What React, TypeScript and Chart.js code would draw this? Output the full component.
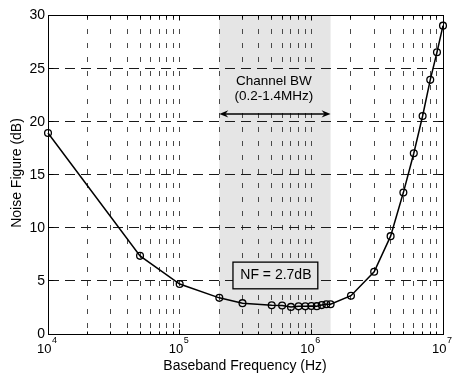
import React, { useEffect, useRef } from 'react';
import { Chart, registerables } from 'chart.js';

Chart.register(...registerables);

// ---- data ----
const freqHz = [
  1e4, 5e4, 1e5, 2e5, 3e5, 5e5, 6e5, 7e5, 8e5, 9e5, 1e6, 1.1e6, 1.2e6, 1.3e6, 1.4e6,
  2e6, 3e6, 4e6, 5e6, 6e6, 7e6, 8e6, 9e6, 1e7,
];
const noiseFigureDb = [
  18.9, 7.35, 4.7, 3.4, 2.9, 2.7, 2.68, 2.55, 2.6, 2.6, 2.63, 2.62, 2.72, 2.8, 2.8,
  3.6, 5.85, 9.2, 13.3, 17.0, 20.5, 23.9, 26.5, 29.0,
];
const xTickValues = [
  1e4, 2e4, 3e4, 4e4, 5e4, 6e4, 7e4, 8e4, 9e4,
  1e5, 2e5, 3e5, 4e5, 5e5, 6e5, 7e5, 8e5, 9e5,
  1e6, 2e6, 3e6, 4e6, 5e6, 6e6, 7e6, 8e6, 9e6,
  1e7,
];
const xMajorTicks = [1e4, 1e5, 1e6, 1e7];
const xMajorExponents = ['4', '5', '6', '7'];
const yTickValues = [0, 5, 10, 15, 20, 25, 30];
const yTickLabels = ['0', '5', '10', '15', '20', '25', '30'];
const bandEdgesHz = [2e5, 1.4e6];
const bandLabelLines = ['Channel BW', '(0.2-1.4MHz)'];
const nfLabel = 'NF = 2.7dB';
const xTitle = 'Baseband Frequency (Hz)';
const yTitle = 'Noise Figure (dB)';

// annotation anchors (data coordinates)
const bandLabelX = 5.2e5;
const bandLabelBaselines = [23.4, 22.0];
const bandLabelBgX = [2.16e5, 1.28e6];
const bandLabelBgY = [21.3, 24.75];
const arrowYValue = 20.7;
const nfBoxX = [2.54e5, 1.12e6];
const nfBoxY = [4.25, 6.76];
const nfTextX = 5.38e5;
const nfTextBaseline = 5.2;

const FONT = "'Liberation Sans', Arial, Helvetica, sans-serif";
const SHADE = '#e5e5e5';

const al = (p: number) => Math.round(p - 0.5) + 0.5;

function arrowHead(ctx: CanvasRenderingContext2D, tipX: number, y: number, dir: number) {
  ctx.beginPath();
  ctx.moveTo(tipX, y);
  ctx.lineTo(tipX - dir * 9, y - 3.6);
  ctx.lineTo(tipX - dir * 6, y);
  ctx.lineTo(tipX - dir * 9, y + 3.6);
  ctx.closePath();
  ctx.fill();
}

const decorPlugin = {
  id: 'matlabDecor',
  beforeDraw(chart: any) {
    const { ctx, chartArea: a, scales } = chart;
    const x = scales.x;
    const x0 = x.getPixelForValue(bandEdgesHz[0]);
    const x1 = x.getPixelForValue(bandEdgesHz[1]);
    ctx.save();
    ctx.fillStyle = SHADE;
    ctx.fillRect(x0, a.top, x1 - x0, a.bottom - a.top);
    ctx.restore();
  },
  afterDraw(chart: any) {
    const { ctx, chartArea: a, scales } = chart;
    const x = scales.x;
    const y = scales.y;
    ctx.save();

    // axes box
    ctx.strokeStyle = '#000';
    ctx.lineWidth = 1;
    const L = al(a.left), R = al(a.right), T = al(a.top), B = al(a.bottom);
    ctx.strokeRect(L, T, R - L, B - T);

    // inner tick marks
    ctx.beginPath();
    xTickValues.forEach((v) => {
      if (v === xTickValues[0] || v === xTickValues[xTickValues.length - 1]) return;
      const px = al(x.getPixelForValue(v));
      const len = xMajorTicks.includes(v) ? 5 : 3;
      ctx.moveTo(px, B);
      ctx.lineTo(px, B - len);
      ctx.moveTo(px, T);
      ctx.lineTo(px, T + len);
    });
    yTickValues.forEach((v, i) => {
      if (i === 0 || i === yTickValues.length - 1) return;
      const py = al(y.getPixelForValue(v));
      ctx.moveTo(L, py);
      ctx.lineTo(L + 5, py);
      ctx.moveTo(R, py);
      ctx.lineTo(R - 5, py);
    });
    ctx.stroke();

    ctx.fillStyle = '#000';
    // y tick labels
    ctx.font = `14px ${FONT}`;
    ctx.textAlign = 'right';
    ctx.textBaseline = 'middle';
    yTickValues.forEach((v, i) => {
      ctx.fillText(yTickLabels[i], a.left - 3, y.getPixelForValue(v) + 0.5);
    });

    // x tick labels 10^n
    ctx.textAlign = 'left';
    ctx.textBaseline = 'alphabetic';
    xMajorTicks.forEach((v, i) => {
      const px = x.getPixelForValue(v);
      const sx = px - 11;
      ctx.font = `13px ${FONT}`;
      ctx.fillText('10', sx, 353);
      const w = ctx.measureText('10').width;
      ctx.font = `9px ${FONT}`;
      ctx.fillText(xMajorExponents[i], sx + w + 0.5, 343);
    });

    // axis titles
    ctx.font = `14px ${FONT}`;
    ctx.textAlign = 'center';
    ctx.fillText(xTitle, (a.left + a.right) / 2 - 0.5, 369.5);
    ctx.save();
    ctx.translate(20.5, (a.top + a.bottom) / 2 - 1.5);
    ctx.rotate(-Math.PI / 2);
    ctx.fillText(yTitle, 0, 0);
    ctx.restore();

    // channel BW label (with background matching the shaded band)
    const gx0 = x.getPixelForValue(bandLabelBgX[0]);
    const gx1 = x.getPixelForValue(bandLabelBgX[1]);
    const gy0 = y.getPixelForValue(bandLabelBgY[1]);
    const gy1 = y.getPixelForValue(bandLabelBgY[0]);
    ctx.fillStyle = SHADE;
    ctx.fillRect(gx0, gy0, gx1 - gx0, gy1 - gy0);
    ctx.fillStyle = '#000';
    ctx.font = `13.5px ${FONT}`;
    ctx.textAlign = 'center';
    const bx = x.getPixelForValue(bandLabelX);
    bandLabelLines.forEach((t, i) => {
      ctx.fillText(t, bx, y.getPixelForValue(bandLabelBaselines[i]));
    });

    // double arrow
    const ax0 = x.getPixelForValue(bandEdgesHz[0]);
    const ax1 = x.getPixelForValue(bandEdgesHz[1]);
    const ay = y.getPixelForValue(arrowYValue);
    ctx.strokeStyle = '#000';
    ctx.lineWidth = 1.5;
    ctx.beginPath();
    ctx.moveTo(ax0 + 5, ay);
    ctx.lineTo(ax1 - 5, ay);
    ctx.stroke();
    arrowHead(ctx, ax0, ay, -1);
    arrowHead(ctx, ax1, ay, 1);

    // NF box
    const nx0 = x.getPixelForValue(nfBoxX[0]);
    const nx1 = x.getPixelForValue(nfBoxX[1]);
    const ny0 = y.getPixelForValue(nfBoxY[1]);
    const ny1 = y.getPixelForValue(nfBoxY[0]);
    ctx.fillStyle = SHADE;
    ctx.fillRect(nx0, ny0, nx1 - nx0, ny1 - ny0);
    ctx.strokeStyle = '#000';
    ctx.lineWidth = 1.3;
    ctx.strokeRect(nx0, ny0, nx1 - nx0, ny1 - ny0);
    ctx.fillStyle = '#000';
    ctx.font = `14px ${FONT}`;
    ctx.fillText(nfLabel, x.getPixelForValue(nfTextX), y.getPixelForValue(nfTextBaseline));

    ctx.restore();
  },
};

export default function App() {
  const ref = useRef<HTMLCanvasElement>(null);

  useEffect(() => {
    const canvas = ref.current;
    if (!canvas) return;
    const isEdge = (v: number) => v === xTickValues[0] || v === xTickValues[xTickValues.length - 1];
    const chart = new Chart(canvas, {
      type: 'line',
      data: {
        datasets: [
          {
            data: freqHz.map((f, i) => ({ x: f, y: noiseFigureDb[i] })),
            borderColor: '#000',
            borderWidth: 1.5,
            pointRadius: 3.4,
            pointBorderColor: '#000',
            pointBorderWidth: 1.3,
            pointBackgroundColor: 'rgba(0,0,0,0)',
            fill: false,
            tension: 0,
            clip: false as any,
          },
        ],
      },
      options: {
        animation: false,
        responsive: false,
        devicePixelRatio: 1,
        layout: { padding: { left: 48, right: 11, top: 15, bottom: 43 } },
        plugins: { legend: { display: false }, tooltip: { enabled: false } },
        scales: {
          x: {
            type: 'logarithmic',
            min: 1e4,
            max: 1e7,
            afterBuildTicks: (s: any) => {
              s.ticks = xTickValues.map((v) => ({ value: v }));
            },
            afterFit: (s: any) => {
              s.height = 0;
            },
            ticks: { display: false },
            grid: {
              drawTicks: false,
              lineWidth: 1,
              color: (c: any) => (c.tick && isEdge(c.tick.value) ? 'rgba(0,0,0,0)' : '#484848'),
            },
            border: { display: true, color: '#000', width: 1, dash: [5, 9] },
          },
          y: {
            type: 'linear',
            min: 0,
            max: 30,
            afterFit: (s: any) => {
              s.width = 0;
            },
            ticks: { display: false, stepSize: 5 },
            grid: {
              drawTicks: false,
              lineWidth: 1,
              color: (c: any) =>
                c.tick && (c.tick.value === 0 || c.tick.value === 30) ? 'rgba(0,0,0,0)' : '#1a1a1a',
            },
            border: { display: true, color: '#000', width: 1, dash: [10, 6] },
          },
        },
      } as any,
      plugins: [decorPlugin as any],
    });
    return () => chart.destroy();
  }, []);

  return (
    <div style={{ position: 'fixed', left: 0, top: 0, width: 454, height: 377, background: '#fff' }}>
      <canvas ref={ref} width={454} height={377} style={{ display: 'block' }} />
    </div>
  );
}
